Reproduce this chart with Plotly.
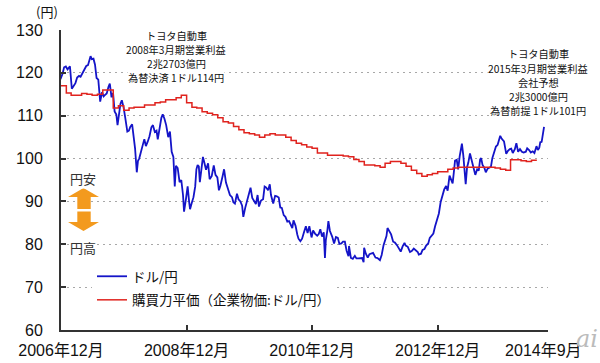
import plotly.graph_objects as go
import pandas as pd

# ---- data ----
usd_dates = [
    "2006-12-29", "2007-01-10", "2007-01-19", "2007-01-29", "2007-02-08", "2007-02-16", "2007-02-22",
    "2007-03-05", "2007-03-15", "2007-03-26", "2007-04-05", "2007-04-16", "2007-04-25", "2007-05-07",
    "2007-05-17", "2007-05-28", "2007-06-07", "2007-06-15", "2007-06-22", "2007-06-29", "2007-07-09",
    "2007-07-18", "2007-07-27", "2007-08-06", "2007-08-16", "2007-08-17", "2007-08-28", "2007-09-06",
    "2007-09-13", "2007-09-24", "2007-10-04", "2007-10-12", "2007-10-22", "2007-10-31", "2007-11-09",
    "2007-11-19", "2007-11-26", "2007-12-04", "2007-12-13", "2007-12-21", "2007-12-31", "2008-01-10",
    "2008-01-22", "2008-01-31", "2008-02-08", "2008-02-19", "2008-02-29", "2008-03-07", "2008-03-17",
    "2008-03-24", "2008-03-31", "2008-04-10", "2008-04-21", "2008-04-30", "2008-05-09", "2008-05-20",
    "2008-05-30", "2008-06-10", "2008-06-19", "2008-06-30", "2008-07-10", "2008-07-17", "2008-07-28",
    "2008-08-07", "2008-08-15", "2008-08-25", "2008-09-04", "2008-09-16", "2008-09-26", "2008-10-06",
    "2008-10-16", "2008-10-24", "2008-10-31", "2008-11-10", "2008-11-21", "2008-12-01", "2008-12-11",
    "2008-12-17", "2008-12-29", "2009-01-07", "2009-01-16", "2009-01-21", "2009-01-30", "2009-02-10",
    "2009-02-20", "2009-02-27", "2009-03-06", "2009-03-13", "2009-03-19", "2009-03-31", "2009-04-06",
    "2009-04-14", "2009-04-24", "2009-05-06", "2009-05-15", "2009-05-27", "2009-06-08", "2009-06-18",
    "2009-06-29", "2009-07-08", "2009-07-17", "2009-07-30", "2009-08-07", "2009-08-18", "2009-08-31",
    "2009-09-10", "2009-09-22", "2009-09-30", "2009-10-09", "2009-10-21", "2009-10-30", "2009-11-10",
    "2009-11-20", "2009-11-27", "2009-12-08", "2009-12-17", "2009-12-30", "2010-01-08", "2010-01-18",
    "2010-01-29", "2010-02-08", "2010-02-18", "2010-02-26", "2010-03-10", "2010-03-22", "2010-03-31",
    "2010-04-08", "2010-04-20", "2010-04-30", "2010-05-07", "2010-05-20", "2010-05-31", "2010-06-10",
    "2010-06-21", "2010-06-30", "2010-07-09", "2010-07-20", "2010-07-30", "2010-08-10", "2010-08-20",
    "2010-08-30", "2010-09-08", "2010-09-15", "2010-09-27", "2010-10-07", "2010-10-14", "2010-10-25",
    "2010-11-04", "2010-11-15", "2010-11-26", "2010-12-06", "2010-12-16", "2010-12-29", "2011-01-07",
    "2011-01-18", "2011-01-31", "2011-02-09", "2011-02-18", "2011-02-28", "2011-03-10", "2011-03-17",
    "2011-03-22", "2011-03-31", "2011-04-06", "2011-04-15", "2011-04-28", "2011-05-09", "2011-05-20",
    "2011-05-31", "2011-06-09", "2011-06-21", "2011-06-30", "2011-07-11", "2011-07-21", "2011-08-01",
    "2011-08-04", "2011-08-15", "2011-08-26", "2011-09-07", "2011-09-16", "2011-09-28", "2011-10-07",
    "2011-10-19", "2011-10-28", "2011-10-31", "2011-11-10", "2011-11-21", "2011-12-01", "2011-12-12",
    "2011-12-22", "2012-01-05", "2012-01-17", "2012-01-31", "2012-02-10", "2012-02-21", "2012-02-29",
    "2012-03-09", "2012-03-15", "2012-03-26", "2012-04-05", "2012-04-17", "2012-04-27", "2012-05-09",
    "2012-05-18", "2012-05-31", "2012-06-11", "2012-06-22", "2012-06-29", "2012-07-11", "2012-07-24",
    "2012-08-03", "2012-08-15", "2012-08-29", "2012-09-07", "2012-09-13", "2012-09-26", "2012-10-05",
    "2012-10-16", "2012-10-26", "2012-11-07", "2012-11-16", "2012-11-28", "2012-12-07", "2012-12-17",
    "2012-12-28", "2013-01-08", "2013-01-18", "2013-01-31", "2013-02-08", "2013-02-19", "2013-02-28",
    "2013-03-11", "2013-03-20", "2013-03-29", "2013-04-05", "2013-04-12", "2013-04-22", "2013-04-30",
    "2013-05-09", "2013-05-16", "2013-05-22", "2013-05-30", "2013-06-06", "2013-06-13", "2013-06-21",
    "2013-06-28", "2013-07-08", "2013-07-17", "2013-07-29", "2013-08-08", "2013-08-19", "2013-08-28",
    "2013-09-05", "2013-09-11", "2013-09-19", "2013-09-30", "2013-10-08", "2013-10-18", "2013-10-29",
    "2013-11-07", "2013-11-15", "2013-11-27", "2013-12-06", "2013-12-16", "2013-12-27", "2013-12-31",
    "2014-01-09", "2014-01-22", "2014-02-04", "2014-02-14", "2014-02-25", "2014-03-05", "2014-03-14",
    "2014-03-26", "2014-04-04", "2014-04-14", "2014-04-25", "2014-05-06", "2014-05-16", "2014-05-29",
    "2014-06-06", "2014-06-17", "2014-06-27", "2014-07-08", "2014-07-18", "2014-07-30", "2014-08-07",
    "2014-08-15", "2014-08-21", "2014-08-29", "2014-09-03", "2014-09-08", "2014-09-10", "2014-09-12",
]
usd_jpy = [
    118.5, 119.8, 121.3, 121.5, 120.8, 121.3, 121.5,
    116.3, 117.0, 117.6, 118.9, 119.3, 119.1, 120.0,
    120.9, 121.6, 121.8, 123.2, 123.9, 123.2, 123.3,
    121.9, 118.8, 118.4, 114.2, 113.3, 115.5, 114.5,
    114.8, 115.2, 116.7, 117.5, 114.3, 115.3, 111.0,
    110.3, 107.8, 110.3, 112.8, 113.6, 112.0, 109.5,
    106.3, 106.5, 107.4, 108.0, 104.5, 102.4, 96.8,
    99.5, 100.0, 101.8, 103.2, 104.5, 102.9, 104.0,
    105.2, 107.3, 107.8, 106.2, 106.5, 104.5, 107.3,
    109.5, 110.3, 109.3, 107.8, 105.0, 106.3, 101.6,
    100.4, 93.5, 98.3, 97.8, 94.5, 95.0, 91.5,
    87.6, 90.8, 93.5, 89.8, 88.2, 89.5, 91.0,
    93.5, 97.5, 98.5, 98.2, 94.5, 98.8, 100.4,
    99.1, 97.4, 98.9, 95.2, 95.9, 98.4, 96.2,
    95.6, 92.6, 93.7, 96.0, 97.5, 94.4, 93.0,
    91.5, 91.0, 89.8, 89.5, 91.8, 90.5, 90.0,
    89.0, 86.4, 88.5, 89.8, 92.2, 93.2, 90.8,
    90.2, 89.4, 91.5, 88.8, 90.2, 90.5, 93.5,
    93.3, 92.6, 94.0, 91.5, 89.5, 91.3, 91.2,
    90.9, 88.6, 88.5, 86.8, 86.4, 85.3, 85.4,
    84.5, 83.8, 85.6, 84.3, 82.3, 81.3, 80.7,
    81.3, 82.8, 84.2, 82.6, 84.2, 81.6, 83.2,
    82.5, 82.0, 82.4, 83.5, 81.8, 82.8, 76.8,
    81.0, 83.2, 85.4, 83.1, 81.8, 80.2, 81.7,
    81.5, 80.1, 80.2, 80.6, 80.6, 78.5, 77.2,
    79.6, 76.8, 76.6, 77.3, 76.7, 76.7, 76.7,
    76.8, 75.8, 79.2, 77.8, 76.9, 77.7, 77.8,
    78.0, 76.9, 76.8, 76.3, 77.5, 79.8, 81.0,
    81.9, 83.8, 82.9, 82.3, 80.6, 80.4, 79.8,
    79.1, 78.3, 79.5, 80.3, 79.7, 79.4, 78.2,
    78.4, 79.0, 78.6, 78.2, 77.6, 77.8, 78.7,
    78.9, 79.7, 80.2, 81.5, 82.0, 82.5, 84.2,
    86.0, 87.2, 89.8, 91.5, 92.8, 93.6, 92.5,
    96.0, 95.0, 94.2, 96.8, 99.5, 99.7, 97.5,
    100.5, 102.3, 103.5, 100.8, 96.5, 94.0, 98.0,
    99.0, 101.2, 99.5, 97.8, 96.2, 97.5, 97.2,
    99.8, 100.1, 98.5, 97.8, 96.8, 97.6, 98.0,
    98.1, 100.1, 101.8, 102.8, 103.2, 104.8, 105.3,
    104.6, 104.0, 101.1, 101.8, 102.2, 102.3, 101.3,
    102.2, 103.6, 101.6, 102.2, 101.6, 101.4, 101.6,
    102.4, 102.0, 101.4, 101.7, 101.3, 102.9, 102.0,
    102.5, 103.8, 103.9, 105.1, 106.2, 107.0, 107.4,
]

ppp_start = "2007-01-01"   # monthly steps
ppp_values = [
    117.0, 115.3, 114.8, 114.8, 115.2, 115.0, 114.8, 115.0, 116.0, 116.0, 111.8, 112.3,
    111.3, 111.8, 112.0, 112.0, 112.5, 112.5, 113.0, 113.2, 113.7, 113.7, 114.2, 114.8,
    113.0, 112.0, 111.8, 110.9, 110.6, 110.2, 109.5, 108.6, 108.3, 107.5, 106.7, 106.0,
    105.8, 105.5, 105.0, 105.5, 105.8, 105.5, 105.5, 105.0, 104.2, 103.6, 103.2, 102.7,
    102.4, 101.3, 101.3, 100.8, 100.8, 100.8, 100.6, 100.4, 99.8, 99.3, 98.5, 98.5,
    98.3, 98.0, 98.9, 99.3, 99.3, 98.9, 98.2, 97.3, 96.5, 95.9, 96.2, 96.5,
    96.9, 96.9, 97.5, 97.8, 98.0, 98.0, 98.0, 98.0, 98.0, 98.0, 98.0, 97.8,
    97.5, 97.3, 99.7, 99.7, 99.5, 99.3, 99.6,
]

x_label_dates = ["2007-01-01", "2009-01-01", "2011-01-01", "2013-01-01", "2014-09-08"]
x_label_texts = ["2006年12月", "2008年12月", "2010年12月", "2012年12月", "2014年9月"]
x_tick_dates = ["2009-01-01", "2011-01-01", "2013-01-01"]
y_ticks = [60, 70, 80, 90, 100, 110, 120, 130]

series_names = ["ドル/円", "購買力平価（企業物価:ドル/円）"]
note_2008 = ["トヨタ自動車", "2008年3月期営業利益", "2兆2703億円", "為替決済 1ドル114円"]
note_2015 = ["トヨタ自動車", "2015年3月期営業利益", "会社予想", "2兆3000億円", "為替前提 1ドル101円"]

# ---- layout helpers (pixel -> paper) ----
L, R, T, B = 61, 548, 30, 330
def px(x):
    return (x - L) / (R - L)
def py(y):
    return (B - y) / (B - T)

JP = "Noto Sans CJK JP"
NUM = "Liberation Sans, Noto Sans CJK JP, sans-serif"

fig = go.Figure()
fig.add_trace(go.Scatter(
    x=usd_dates, y=usd_jpy, mode="lines", name=series_names[0],
    line=dict(color="#1414C8", width=1.8), legendgroup="a",
))
ppp_dates = pd.date_range(ppp_start, periods=len(ppp_values) + 1, freq="MS")
fig.add_trace(go.Scatter(
    x=ppp_dates, y=ppp_values + [ppp_values[-1]], mode="lines", name=series_names[1],
    line=dict(color="#E0231E", width=1.5, shape="hv"), legendgroup="b",
))

# orange double arrow (円安 / 円高)
arrow_up = [(83.5, 188), (99, 197), (90.7, 197), (90.7, 209), (77.3, 209), (77.3, 197), (68, 197)]
arrow_dn = [(77.3, 211.5), (90.7, 211.5), (90.7, 222), (99, 222), (83.5, 231), (68, 222), (77.3, 222)]
def path(pts):
    return "M " + " L ".join(f"{px(a):.4f},{py(b):.4f}" for a, b in pts) + " Z"
for pts in (arrow_up, arrow_dn):
    fig.add_shape(type="path", path=path(pts), xref="paper", yref="paper",
                  fillcolor="#F39A1E", line=dict(width=0), layer="above")

ann = [
    dict(text="(円)", x=px(47), y=py(12), font=dict(size=13, family=JP, color="#111")),
    dict(text="円安", x=px(83), y=py(178), font=dict(size=13, family=JP, color="#333"), bgcolor="white"),
    dict(text="円高", x=px(83), y=py(247), font=dict(size=13, family=JP, color="#333"), bgcolor="white"),
    dict(text="<i>ai</i>", x=px(587), y=py(339), font=dict(size=24, family="DejaVu Serif", color="#BBBBBB")),
]
GAP = 14.2
for i, line in enumerate(note_2008):
    ann.append(dict(text=line, x=px(176), y=py(35 + GAP * i),
                    font=dict(size=10.2, family=JP, color="#111"),
                    bgcolor="white" if i > 0 else None))
for i, line in enumerate(note_2015):
    ann.append(dict(text=line, x=px(538), y=py(54 + GAP * i),
                    font=dict(size=10.2, family=JP, color="#111"), bgcolor="white"))
for a in ann:
    fig.add_annotation(xref="paper", yref="paper", showarrow=False, xanchor="center",
                       yanchor="middle", borderpad=0, **a)

fig.update_layout(
    width=600, height=363,
    margin=dict(l=L, r=600 - R, t=T, b=363 - B, autoexpand=False),
    paper_bgcolor="white", plot_bgcolor="white",
    showlegend=True,
    legend=dict(x=px(92), y=py(261), xanchor="left", yanchor="top", bgcolor="white",
                font=dict(size=13.5, family=JP, color="#111"), tracegroupgap=3,
                borderwidth=0),
    xaxis=dict(
        type="date", range=["2007-01-01", "2014-10-05"], automargin=False,
        tickmode="array", tickvals=x_label_dates, ticktext=x_label_texts, ticks="",
        tickfont=dict(size=16, family=NUM, color="#111"), ticklabelstandoff=5,
        minor=dict(tickmode="array", tickvals=x_tick_dates, ticks="inside", ticklen=5,
                   tickcolor="#333", tickwidth=1.5, showgrid=False),
        showline=True, linecolor="#333", linewidth=2, showgrid=False, zeroline=False,
    ),
    yaxis=dict(
        range=[60, 130], tickmode="array", tickvals=y_ticks, automargin=False,
        ticks="inside", ticklen=5, tickcolor="#333", tickwidth=1.5,
        tickfont=dict(size=16, family=NUM, color="#111"), ticklabelstandoff=13,
        showline=True, linecolor="#333", linewidth=2, zeroline=False,
        showgrid=True, gridcolor="#A8A8A8", griddash="2px,4px", gridwidth=1,
    ),
)

fig.write_html("out.html", config={"displayModeBar": False},
               post_script="document.body.style.margin='0px';")
